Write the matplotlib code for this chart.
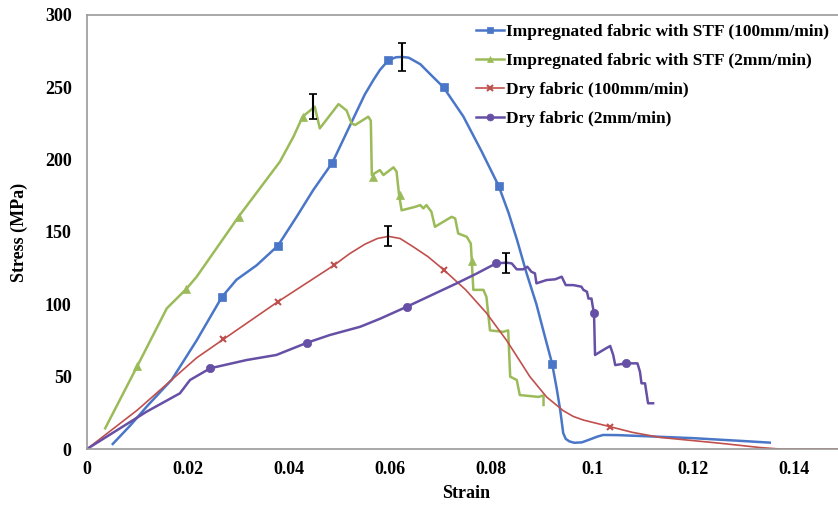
import matplotlib
matplotlib.use("Agg")
import matplotlib.pyplot as plt
from matplotlib.lines import Line2D

# stress-strain curves, strain (-) vs stress (MPa)
stf100_x = [0.0051, 0.0085, 0.012, 0.0168, 0.0217, 0.0267, 0.0296, 0.0336, 0.0378, 0.0415,
            0.0448, 0.0486, 0.0524, 0.055, 0.0567, 0.058, 0.0597, 0.0612, 0.0624, 0.0637,
            0.066, 0.068, 0.0706, 0.0745, 0.0781, 0.0815, 0.0835, 0.0852, 0.087, 0.089,
            0.0905, 0.0921, 0.093, 0.0937, 0.0943, 0.0948, 0.0955, 0.0965, 0.098, 0.0995,
            0.101, 0.1022, 0.105, 0.1095, 0.12, 0.13, 0.1352]
stf100_y = [3.5, 16, 30, 48, 75, 105, 117, 127, 140.5, 160.5,
            179, 198, 226, 245, 255, 262, 268.8, 270.8, 271, 270.5,
            266, 259, 250, 230, 206, 182, 163, 144, 122, 100,
            80, 59, 42, 27, 11, 7, 5.3, 4.3, 4.6, 6.5,
            8.5, 9.7, 9.6, 9, 7.5, 5.5, 4.4]
stf100_mk_x = [0.0267, 0.0378, 0.0486, 0.0597, 0.0706, 0.0815, 0.0921]
stf100_mk_y = [105, 140.5, 198, 268.8, 250, 181.8, 59]

stf2_x = [0.0036, 0.00997, 0.0158, 0.0196, 0.0217, 0.030, 0.0382, 0.0409, 0.0427, 0.0451,
          0.0461, 0.0498, 0.0514, 0.0524, 0.0531, 0.0557, 0.0562, 0.0564, 0.058, 0.0587,
          0.0607, 0.0613, 0.0618, 0.0623, 0.065, 0.066, 0.0666, 0.0672, 0.0682, 0.0689,
          0.0722, 0.0729, 0.0735, 0.0752, 0.076, 0.0762, 0.0765, 0.0785, 0.0791, 0.0798,
          0.0824, 0.0834, 0.0838, 0.0851, 0.0857, 0.0894, 0.0904, 0.0904]
stf2_y = [14.3, 57.4, 97.2, 110.4, 119, 160.5, 198.6, 216, 229.7, 236.6,
          221.6, 238.4, 234, 225, 224, 229.7, 227, 189.4, 192.8, 189.4,
          194.7, 191.7, 175.5, 165, 167.4, 168.6, 166.3, 168.6, 164, 153.6,
          160.5, 159.4, 149, 146.7, 142, 130, 110, 110, 105, 82,
          81, 82, 50, 47.7, 37.3, 36, 37, 30.4]
stf2_mk_x = [0.00997, 0.0196, 0.030, 0.0427, 0.0567, 0.0619, 0.0762]
stf2_mk_y = [57.4, 110.4, 160.5, 229.7, 188, 175.5, 130]

dry100_x = [0, 0.01, 0.0217, 0.027, 0.0378, 0.0489, 0.052, 0.055, 0.0575, 0.0597,
            0.062, 0.0645, 0.0675, 0.0706, 0.075, 0.0791, 0.0831, 0.0855, 0.0877, 0.091,
            0.0943, 0.0963, 0.0983, 0.1036, 0.108, 0.1135, 0.1253, 0.1333, 0.1372, 0.149]
dry100_y = [0, 27, 63, 75.8, 101.8, 127, 135, 141.5, 145.5, 147,
            145.5, 140, 133, 124, 110, 94, 75, 62, 50, 36,
            26.5, 22.5, 20, 15.4, 11.5, 8, 4, 1, 0, 0]
dry100_mk_x = [0.027, 0.0378, 0.0489, 0.0706, 0.1036]
dry100_mk_y = [75.8, 101.8, 127, 124, 15.4]

dry2_x = [0, 0.0118, 0.0184, 0.0204, 0.0244, 0.0316, 0.0375, 0.0436, 0.0481, 0.0541,
          0.058, 0.0633, 0.068, 0.0732, 0.077, 0.081, 0.0831, 0.0841, 0.0851, 0.0864,
          0.0872, 0.088, 0.0887, 0.089, 0.091, 0.0927, 0.094, 0.0948, 0.0963, 0.0979,
          0.0983, 0.099, 0.0993, 0.0999, 0.1001, 0.1004, 0.1006, 0.1022, 0.1036, 0.1042,
          0.1046, 0.1067, 0.109, 0.1095, 0.1098, 0.1105, 0.1108, 0.1111, 0.1121]
dry2_y = [0, 25.8, 38.5, 47.7, 55.8, 61.5, 65, 73.5, 78.8, 84.5,
          90, 98.3, 106, 114.5, 121, 128.3, 128.8, 128.3, 124.2, 124.2,
          126, 122.5, 121.4, 114.5, 116.8, 117.3, 119.1, 113.3, 113.3, 112.2,
          110, 108.7, 104, 104, 99.5, 93.8, 65, 68.4, 71.2, 65,
          58, 59.2, 59.2, 53.4, 45.4, 45.4, 38.5, 31.6, 31.6]
dry2_mk_x = [0.0244, 0.0436, 0.0633, 0.081, 0.1004, 0.1067]
dry2_mk_y = [55.8, 73.5, 98.3, 128.3, 93.8, 59.2]

# peak values with scatter
err_x = [0.0624, 0.0448, 0.0597, 0.083]
err_y = [271, 237, 147, 128.4]
err_e = [9.5, 8.6, 7, 7]

labels = ["Impregnated fabric with STF (100mm/min)",
          "Impregnated fabric with STF (2mm/min)",
          "Dry fabric (100mm/min)",
          "Dry fabric (2mm/min)"]

plt.rcParams['font.family'] = ['Liberation Serif', 'DejaVu Serif']
plt.rcParams['font.weight'] = 'bold'

fig = plt.figure(figsize=(8.38, 5.05), dpi=100)
ax = fig.add_axes([87/838, 56/505, 757.5/838, 434/505])

series = [
    (stf100_x, stf100_y, stf100_mk_x, stf100_mk_y, '#4a76c8', 's', 6, 1.8),
    (stf2_x, stf2_y, stf2_mk_x, stf2_mk_y, '#9bbb59', '^', 6, 1.8),
    (dry100_x, dry100_y, dry100_mk_x, dry100_mk_y, '#c0504d', 'x', 5, 1.2),
    (dry2_x, dry2_y, dry2_mk_x, dry2_mk_y, '#6650a6', 'o', 6, 1.8),
]
handles = []
for (x, y, mx, my, c, m, ms, lw), lab in zip(series, labels):
    ax.plot(x, y, color=c, lw=lw, zorder=2, solid_joinstyle='round')
    mew = 1.5 if m == 'x' else 0.5
    ax.plot(mx, my, ls='none', marker=m, ms=ms, color=c, mec=c, mew=mew, zorder=3)
    handles.append(Line2D([], [], color=c, lw=lw, marker=m, ms=ms - 1, mec=c, mew=mew))

ax.errorbar(err_x, err_y, yerr=err_e, fmt='none', ecolor='black', elinewidth=1.5,
            capsize=3, capthick=1.2, zorder=4)

ax.set_xlim(0, 0.15)
ax.set_ylim(0, 300)
ax.set_xticks([0, 0.02, 0.04, 0.06, 0.08, 0.1, 0.12, 0.14])
ax.set_xticklabels(['0', '0.02', '0.04', '0.06', '0.08', '0.1', '0.12', '0.14'])
ax.set_yticks(range(0, 301, 50))
ax.tick_params(axis='y', length=0, labelsize=13, pad=11)
ax.tick_params(axis='x', length=0, labelsize=13, pad=9)
for lb in ax.get_xticklabels() + ax.get_yticklabels():
    lb.set_fontweight('bold')
for sp in ax.spines.values():
    sp.set_color('#9a9a9a')
    sp.set_linewidth(1.2)

ax.set_xlabel('Strain', fontsize=13, fontweight='bold', labelpad=5)
ax.set_ylabel('Stress (MPa)', fontsize=13, fontweight='bold', labelpad=12)

ax.legend(handles, labels, loc='upper left', bbox_to_anchor=(0.505, 0.995), frameon=False,
          prop={'family': 'Liberation Serif', 'weight': 'bold', 'size': 12.5},
          handlelength=1.6, handletextpad=0.1, labelspacing=0.74, borderaxespad=0)

fig.savefig('out.png', dpi=100)
